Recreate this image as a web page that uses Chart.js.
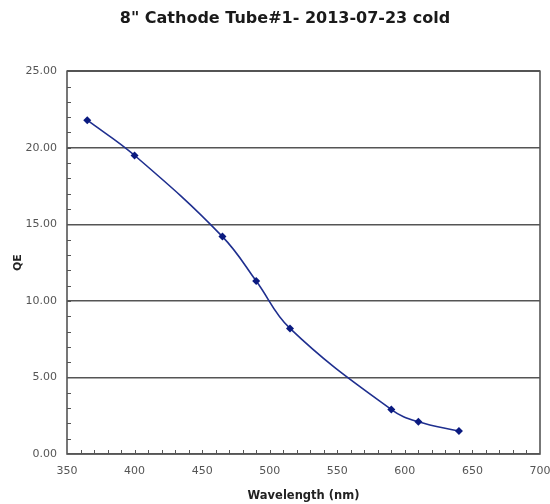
<!DOCTYPE html>
<html>
<head>
<meta charset="utf-8">
<script src="https://cdn.jsdelivr.net/npm/chart.js@4"></script>
<style>
html,body{margin:0;padding:0;background:#fff;}
#wrap{width:550px;height:504px;}
</style>
</head>
<body>
<div id="wrap"><canvas id="c" width="550" height="504"></canvas></div>
<script>
const chartTitle = '8" Cathode Tube#1- 2013-07-23 cold';
const xTitle = 'Wavelength (nm)';
const yTitle = 'QE';
const wavelengths = [365, 400, 465, 490, 515, 590, 610, 640];
const qe = [21.8, 19.5, 14.2, 11.3, 8.2, 2.9, 2.1, 1.5];
const xRange = [350, 700];
const yRange = [0, 25];

const points = wavelengths.map((w, i) => ({x: w, y: qe[i]}));

const frame = {
  id: 'frame',
  afterLayout(chart) {
    if (chart.titleBlock) { chart.titleBlock.left = 20; chart.titleBlock.right = 550; }
  },
  afterDatasetsDraw(chart) {
    const {ctx, chartArea: a, scales} = chart;
    ctx.save();
    ctx.strokeStyle = '#555';
    ctx.lineWidth = 1;
    ctx.beginPath();
    for (let v = xRange[0] + 10; v < xRange[1]; v += 10) {
      const px = Math.round(scales.x.getPixelForValue(v)) + 0.5;
      ctx.moveTo(px, a.bottom);
      ctx.lineTo(px, a.bottom - 4);
    }
    for (let v = yRange[0] + 1; v < yRange[1]; v += 1) {
      const py = Math.round(scales.y.getPixelForValue(v)) + 0.5;
      ctx.moveTo(a.left, py);
      ctx.lineTo(a.left + 4, py);
    }
    ctx.stroke();
    ctx.lineWidth = 1.6;
    ctx.strokeStyle = '#555';
    ctx.strokeRect(a.left, a.top, a.right - a.left, a.bottom - a.top);
    ctx.restore();
  }
};

new Chart(document.getElementById('c'), {
  type: 'line',
  data: {
    datasets: [{
      data: points,
      borderColor: '#1f2f8f',
      backgroundColor: '#0a1a80',
      borderWidth: 1.6,
      tension: 0.4,
      pointStyle: 'rectRot',
      pointRadius: 4,
      pointBorderWidth: 0,
      pointBackgroundColor: '#0a1a80',
      fill: false
    }]
  },
  options: {
    responsive: false,
    animation: false,
    layout: {padding: {left: 0, right: 0, top: 0, bottom: 0}},
    plugins: {
      legend: {display: false},
      tooltip: {enabled: false},
      title: {
        display: true,
        text: chartTitle,
        color: '#1a1a1a',
        font: {family: 'DejaVu Sans', size: 16, weight: 'bold'},
        padding: {top: 9, bottom: 43}
      }
    },
    scales: {
      x: {
        type: 'linear',
        min: xRange[0], max: xRange[1],
        afterFit(s) { s.height = 50; s.paddingRight = 10; s.paddingLeft = 0; },
        border: {display: false},
        grid: {display: false, drawTicks: false},
        ticks: {
          stepSize: 50,
          padding: 11,
          color: '#555',
          maxRotation: 0,
          font: {family: 'DejaVu Sans', size: 11}
        },
        title: {
          display: true,
          text: xTitle,
          color: '#222',
          font: {family: 'DejaVu Sans', size: 11.5, weight: 'bold'},
          padding: {top: 0, bottom: 1}
        }
      },
      y: {
        min: yRange[0], max: yRange[1],
        afterFit(s) { s.width = 67; s.paddingTop = 0; s.paddingBottom = 0; },
        border: {display: false},
        grid: {
          drawTicks: false,
          color: '#555',
          lineWidth: 1.5
        },
        ticks: {
          stepSize: 5,
          padding: 10,
          color: '#555',
          font: {family: 'DejaVu Sans', size: 11},
          callback: v => Number(v).toFixed(2)
        },
        title: {
          display: true,
          text: yTitle,
          color: '#222',
          font: {family: 'DejaVu Sans', size: 11, weight: 'bold'},
          padding: {top: 12, bottom: 0}
        }
      }
    }
  },
  plugins: [frame]
});
</script>
</body>
</html>
